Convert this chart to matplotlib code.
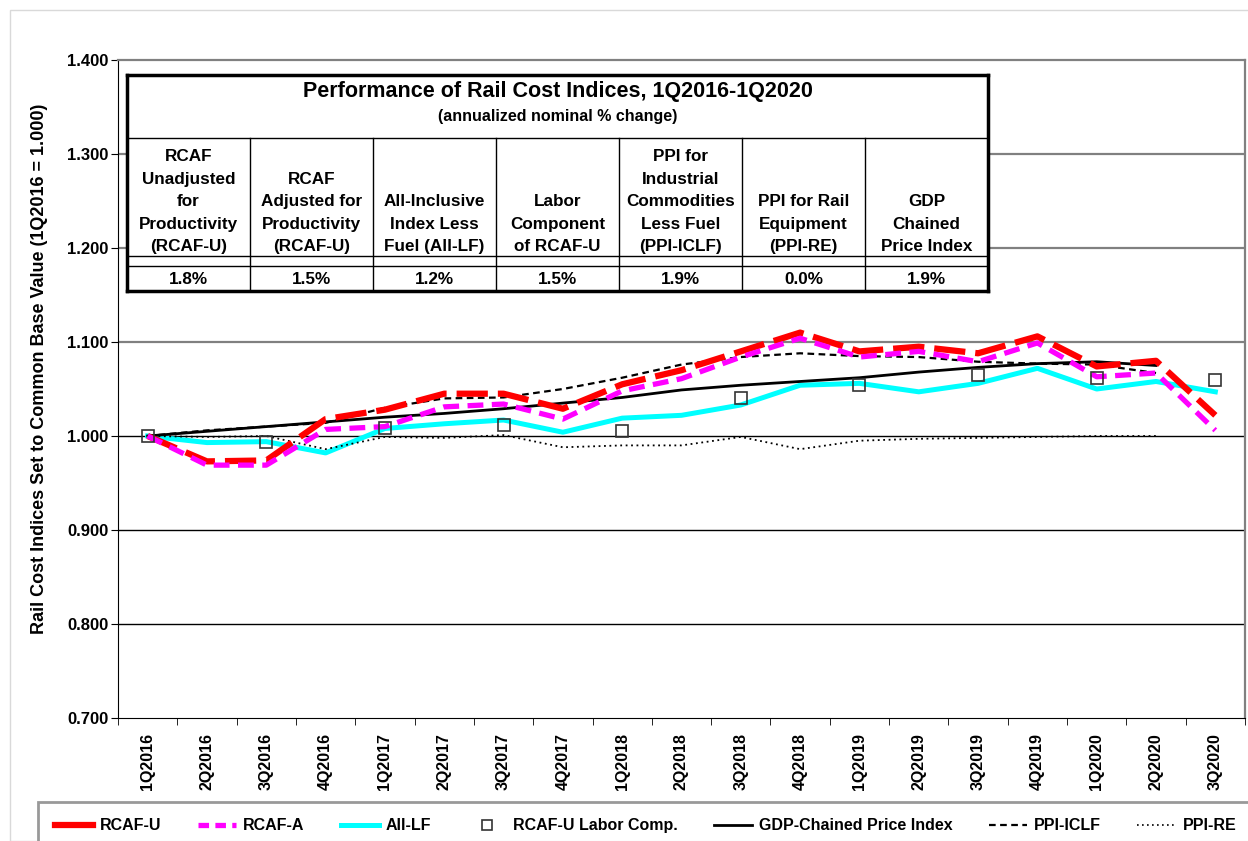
import numpy as np
import matplotlib
matplotlib.use('Agg')
import matplotlib.pyplot as plt
from matplotlib.lines import Line2D
from matplotlib.patches import Rectangle

plt.rcParams['font.family'] = ['Liberation Sans', 'DejaVu Sans']
plt.rcParams['font.weight'] = 'bold'

#data
quarters = ['1Q2016', '2Q2016', '3Q2016', '4Q2016',
            '1Q2017', '2Q2017', '3Q2017', '4Q2017',
            '1Q2018', '2Q2018', '3Q2018', '4Q2018',
            '1Q2019', '2Q2019', '3Q2019', '4Q2019',
            '1Q2020', '2Q2020', '3Q2020']
nan = np.nan
rcaf_u = [1.000, 0.973, 0.974, 1.018, 1.028, 1.045, 1.045, 1.029, 1.055, 1.070,
          1.090, 1.110, 1.090, 1.095, 1.088, 1.106, 1.074, 1.080, 1.022]
rcaf_a = [1.000, 0.969, 0.969, 1.007, 1.010, 1.031, 1.034, 1.018, 1.048, 1.061,
          1.084, 1.104, 1.084, 1.090, 1.079, 1.099, 1.063, 1.067, 1.006]
all_lf = [1.000, 0.993, 0.994, 0.982, 1.008, 1.013, 1.017, 1.004, 1.019, 1.022,
          1.033, 1.054, 1.056, 1.047, 1.056, 1.072, 1.050, 1.058, 1.047]
labor = [1.000, nan, 0.994, nan, 1.009, nan, 1.012, nan, 1.005, nan,
         1.040, nan, 1.054, nan, 1.065, nan, 1.062, nan, 1.060]
gdp = [1.000, 1.005, 1.010, 1.015, 1.020, 1.024, 1.029, 1.035, 1.041, 1.049,
       1.054, 1.058, 1.062, 1.068, 1.073, 1.077, 1.079, 1.075, nan]
ppi_iclf = [1.000, 1.006, 1.010, 1.014, 1.030, 1.040, 1.041, 1.050, 1.062, 1.076,
            1.084, 1.088, 1.085, 1.084, 1.079, 1.077, 1.076, 1.067, nan]
ppi_re = [1.000, 0.999, 1.000, 0.986, 0.999, 0.998, 1.001, 0.988, 0.990, 0.990,
          0.999, 0.986, 0.995, 0.997, 0.998, 0.999, 1.000, 1.000, nan]

tbl_title = 'Performance of Rail Cost Indices, 1Q2016-1Q2020'
tbl_sub = '(annualized nominal % change)'
tbl_heads = ['RCAF\nUnadjusted\nfor\nProductivity\n(RCAF-U)',
             'RCAF\nAdjusted for\nProductivity\n(RCAF-U)',
             'All-Inclusive\nIndex Less\nFuel (All-LF)',
             'Labor\nComponent\nof RCAF-U',
             'PPI for\nIndustrial\nCommodities\nLess Fuel\n(PPI-ICLF)',
             'PPI for Rail\nEquipment\n(PPI-RE)',
             'GDP\nChained\nPrice Index']
tbl_vals = ['1.8%', '1.5%', '1.2%', '1.5%', '1.9%', '0.0%', '1.9%']

W, H = 1248, 841
fig = plt.figure(figsize=(W / 100, H / 100), dpi=100)

#outer light frame
fig.add_artist(Rectangle((10 / W, 0), 1.2, (H - 10) / H, transform=fig.transFigure,
                         fill=False, ec='#d9d9d9', lw=1))

ax = fig.add_axes([118 / W, 1 - 718 / H, (1245 - 118) / W, (718 - 60) / H])
x = np.arange(len(quarters))

ax.plot(x, rcaf_u, color='#ff0000', lw=4.5, dashes=(5, 1.6), zorder=5)
ax.plot(x, rcaf_a, color='#ff00ff', lw=3.8, dashes=(3, 1.6), zorder=6)
ax.plot(x, all_lf, color='#00ffff', lw=3.6, zorder=3)
ax.plot(x, labor, ls='none', marker='s', ms=8.5, mfc='none', mec='#333333', mew=1.2, zorder=7)
ax.plot(x, gdp, color='black', lw=2.0, zorder=4)
ax.plot(x, ppi_iclf, color='black', lw=1.6, dashes=(3, 2), zorder=4)
ax.plot(x, ppi_re, color='black', lw=1.3, dashes=(1, 2), zorder=4)

ax.set_xlim(-0.5, len(quarters) - 0.5)
ax.set_ylim(0.7, 1.4)
yt = np.arange(0.7, 1.401, 0.1)
ax.set_yticks(yt)
ax.set_yticklabels(['%.3f' % v for v in yt], fontsize=12, fontweight='bold')
for v in yt[1:-1]:
    if v > 1.05:
        ax.axhline(v, color='#808080', lw=1.6, zorder=1)
    else:
        ax.axhline(v, color='black', lw=1.0, zorder=1)

ax.set_xticks(x)
ax.set_xticklabels(quarters, rotation=90, fontsize=11.5, fontweight='bold')
ax.set_xticks(np.arange(-0.5, len(quarters), 1), minor=True)
ax.tick_params(axis='x', which='major', length=0, pad=11)
ax.tick_params(axis='x', which='minor', length=5, direction='out')
ax.tick_params(axis='y', length=5, direction='out', pad=2)
ax.spines['top'].set_color('#808080')
ax.spines['right'].set_color('#808080')
ax.spines['top'].set_linewidth(1.6)
ax.spines['right'].set_linewidth(1.6)
ax.set_ylabel('Rail Cost Indices Set to Common Base Value (1Q2016 = 1.000)',
              fontsize=13, fontweight='bold')
ax.yaxis.set_label_coords(-0.062, 0.53)

#inset table, in pixel coordinates
tx0, tx1, ty0, ty1 = 127, 988, 75, 291
at = fig.add_axes([tx0 / W, 1 - ty1 / H, (tx1 - tx0) / W, (ty1 - ty0) / H], zorder=10)
at.set_xlim(tx0, tx1)
at.set_ylim(ty1, ty0)
at.set_xticks([])
at.set_yticks([])
for s in at.spines.values():
    s.set_linewidth(2.5)
    s.set_color('black')
col_w = (tx1 - tx0) / len(tbl_heads)
at.plot([tx0, tx1], [138, 138], color='black', lw=1)
at.plot([tx0, tx1], [256, 256], color='black', lw=1)
at.plot([tx0, tx1], [266, 266], color='black', lw=1)
for i in range(1, len(tbl_heads)):
    xc = tx0 + i * col_w
    at.plot([xc, xc], [138, ty1], color='black', lw=1)
at.text((tx0 + tx1) / 2, 91, tbl_title, ha='center', va='center', fontsize=15.5, fontweight='bold')
at.text((tx0 + tx1) / 2, 117, tbl_sub, ha='center', va='center', fontsize=11.5, fontweight='bold')
for i, (hd, vl) in enumerate(zip(tbl_heads, tbl_vals)):
    xc = tx0 + (i + 0.5) * col_w
    at.text(xc, 254, hd, ha='center', va='bottom', fontsize=12.3, fontweight='bold',
            linespacing=1.62)
    at.text(xc, 279, vl, ha='center', va='center', fontsize=12.3, fontweight='bold')

#legend
handles = [
    Line2D([], [], color='#ff0000', lw=4.5),
    Line2D([], [], color='#ff00ff', lw=3.8, dashes=(2, 1.2)),
    Line2D([], [], color='#00ffff', lw=3.6),
    Line2D([], [], ls='none', marker='s', ms=7, mfc='none', mec='#333333', mew=1.2),
    Line2D([], [], color='black', lw=2.0),
    Line2D([], [], color='black', lw=1.6, dashes=(3, 2)),
    Line2D([], [], color='black', lw=1.2, dashes=(1, 2)),
]
labels = ['RCAF-U', 'RCAF-A', 'All-LF', 'RCAF-U Labor Comp.', 'GDP-Chained Price Index',
          'PPI-ICLF', 'PPI-RE']
leg = fig.legend(handles, labels, loc='lower left', bbox_to_anchor=(38 / W, -0.011),
                 ncol=7, frameon=True, fancybox=False, handlelength=2.4,
                 columnspacing=2.25, handletextpad=0.45, borderpad=1.05,
                 borderaxespad=0, prop={'size': 11.5, 'weight': 'bold'})
leg.get_frame().set_edgecolor('#808080')
leg.get_frame().set_linewidth(2)

fig.savefig('out.png', dpi=100)
